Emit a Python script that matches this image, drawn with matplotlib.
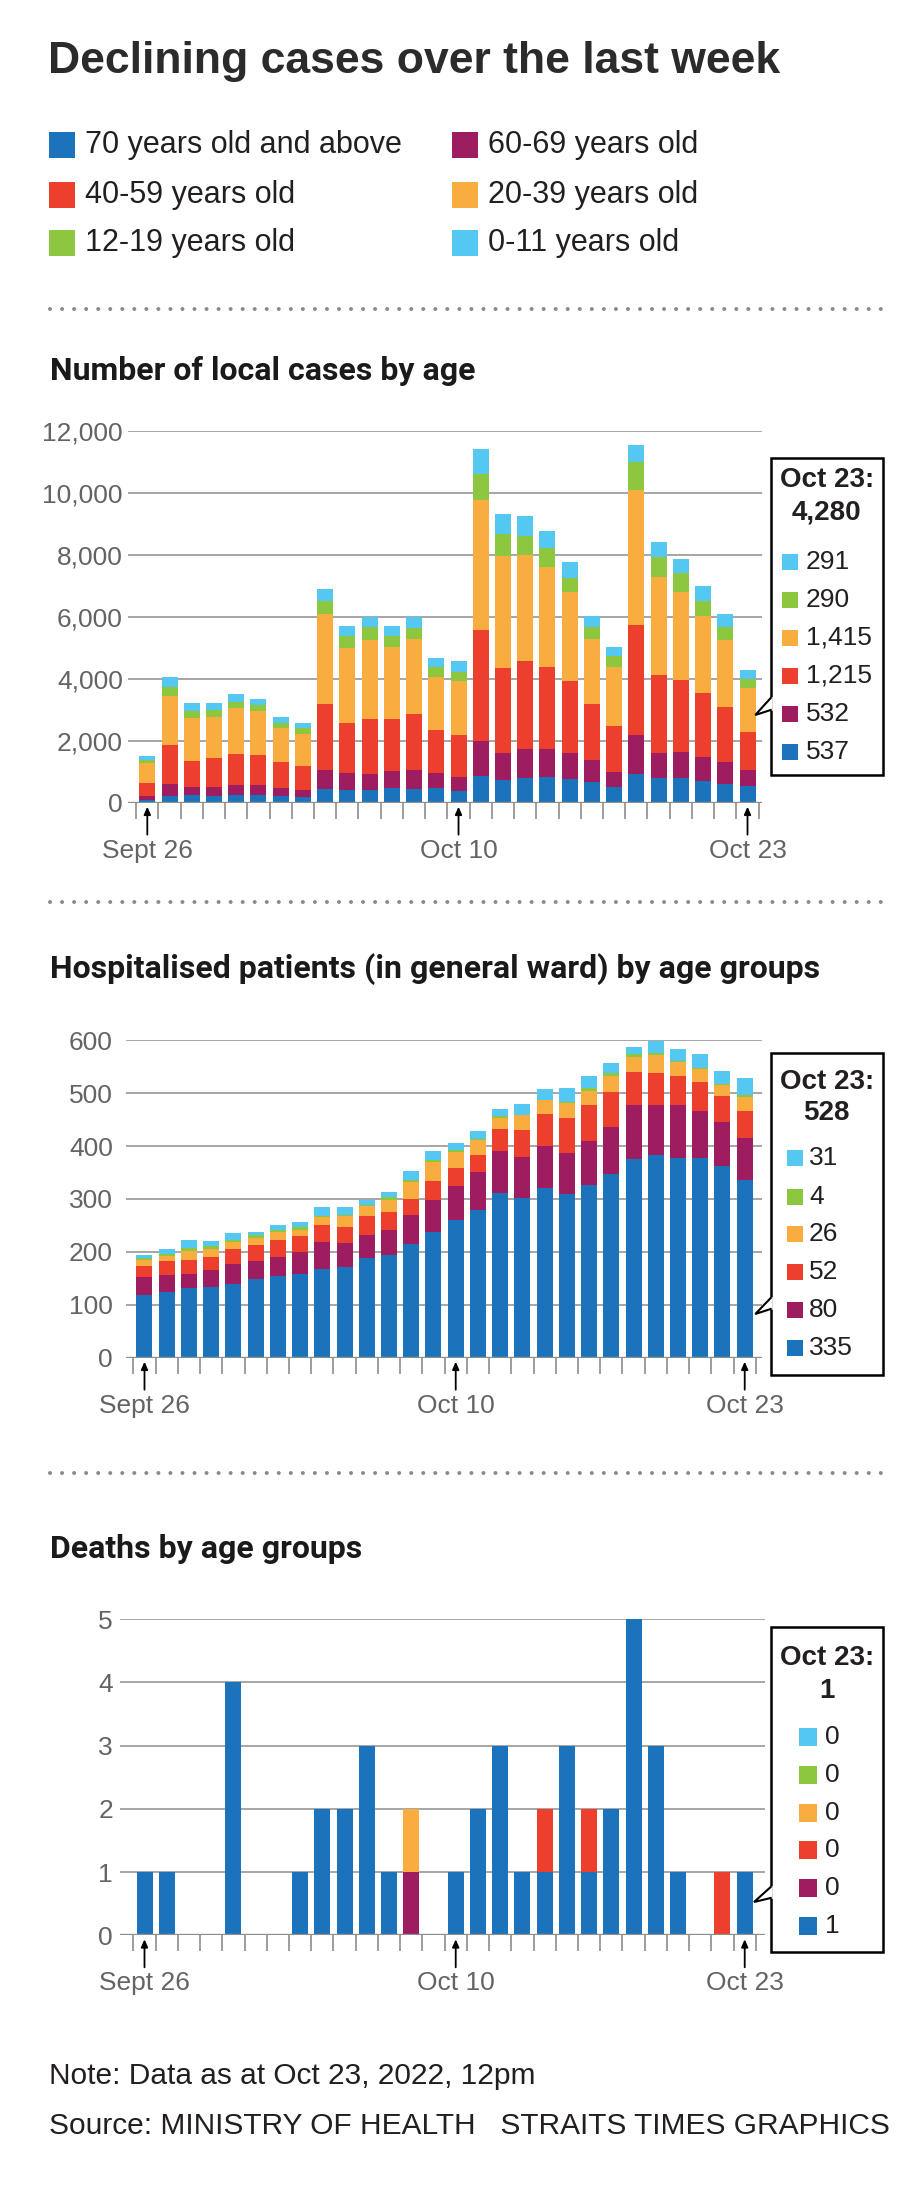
import matplotlib
matplotlib.use("Agg")
import matplotlib.pyplot as plt
import numpy as np
from matplotlib.patches import Rectangle
from matplotlib.lines import Line2D

# ---------------- data ----------------
groups = ["70 years old and above", "60-69 years old", "40-59 years old",
          "20-39 years old", "12-19 years old", "0-11 years old"]
colors = ["#1b74bb", "#9d1d60", "#ec3f2d", "#f8ad3e", "#8dc63f", "#55c8f2"]

n_days = 28
date_ticks = [0, 14, 27]
date_labels = ["Sept 26", "Oct 10", "Oct 23"]

# local cases by age (Sept 26 - Oct 23)
cases_70 = [86, 226, 237, 226, 237, 258, 226, 183, 430, 409, 419, 473, 452, 473,
            376, 860, 720, 785, 817, 753, 677, 495, 914, 796, 796, 710, 613, 537]
cases_60 = [129, 376, 268, 279, 322, 323, 258, 215, 624, 548, 516, 549, 602, 495,
            441, 1129, 871, 957, 925, 849, 699, 494, 1269, 806, 828, 763, 699, 532]
cases_40 = [430, 1248, 850, 925, 1022, 957, 839, 785, 2140, 1613, 1775, 1688, 1806, 1387,
            1377, 3592, 2753, 2828, 2634, 2333, 1818, 1495, 3538, 2506, 2344, 2054, 1774, 1215]
cases_20 = [624, 1602, 1376, 1334, 1462, 1408, 1096, 1043, 2892, 2419, 2537, 2301, 2420, 1710,
            1731, 4183, 3624, 3419, 3226, 2850, 2086, 1882, 4365, 3182, 2839, 2495, 2161, 1415]
cases_12 = [97, 268, 226, 215, 204, 194, 140, 183, 409, 387, 409, 376, 365, 301,
            301, 828, 688, 624, 624, 462, 376, 376, 904, 635, 591, 473, 420, 290]
cases_0 = [139, 323, 258, 236, 248, 204, 194, 172, 387, 323, 322, 312, 333, 301,
           344, 806, 656, 634, 527, 516, 355, 290, 548, 484, 452, 484, 419, 291]

# hospitalised (general ward)
hosp_70 = [119, 125, 131, 134, 139, 148, 155, 158, 168, 171, 188, 195, 214, 238,
           260, 279, 312, 301, 321, 309, 327, 347, 376, 383, 378, 378, 362, 335]
hosp_60 = [34, 31, 27, 32, 39, 35, 36, 42, 51, 45, 44, 47, 55, 61,
           64, 72, 79, 78, 79, 78, 83, 89, 101, 95, 100, 88, 84, 80]
hosp_40 = [21, 26, 27, 24, 27, 30, 31, 30, 31, 32, 35, 34, 31, 35,
           34, 33, 41, 51, 61, 66, 68, 66, 64, 61, 55, 55, 49, 52]
hosp_20 = [10, 10, 17, 15, 14, 14, 15, 11, 16, 20, 20, 23, 33, 36,
           31, 28, 22, 28, 26, 29, 27, 31, 28, 33, 26, 25, 21, 26]
hosp_12 = [4, 4, 6, 6, 4, 5, 5, 6, 1, 2, 2, 4, 3, 3,
           3, 2, 2, 1, 1, 2, 4, 6, 5, 4, 2, 2, 1, 4]
hosp_0 = [6, 10, 14, 10, 13, 6, 8, 9, 18, 14, 9, 11, 16, 18,
          13, 14, 15, 20, 20, 26, 23, 18, 13, 22, 22, 27, 25, 31]

# deaths
death_70 = [1, 1, 0, 0, 4, 0, 0, 1, 2, 2, 3, 1, 0, 0,
            1, 2, 3, 1, 1, 3, 1, 2, 5, 3, 1, 0, 0, 1]
death_60 = [0, 0, 0, 0, 0, 0, 0, 0, 0, 0, 0, 0, 1, 0,
            0, 0, 0, 0, 0, 0, 0, 0, 0, 0, 0, 0, 0, 0]
death_40 = [0, 0, 0, 0, 0, 0, 0, 0, 0, 0, 0, 0, 0, 0,
            0, 0, 0, 0, 1, 0, 1, 0, 0, 0, 0, 0, 1, 0]
death_20 = [0, 0, 0, 0, 0, 0, 0, 0, 0, 0, 0, 0, 1, 0,
            0, 0, 0, 0, 0, 0, 0, 0, 0, 0, 0, 0, 0, 0]
death_12 = [0] * 28
death_0 = [0] * 28

cases_ticks = [0, 2000, 4000, 6000, 8000, 10000, 12000]
hosp_ticks = [0, 100, 200, 300, 400, 500, 600]
death_ticks = [0, 1, 2, 3, 4, 5]

# ---------------- styling ----------------
W, H = 920, 2200
fig = plt.figure(figsize=(W / 100, H / 100), dpi=100)
NARROW = ["Liberation Sans", "DejaVu Sans"]
HEAD = ["Roboto", "DejaVu Sans"]
GRID = "#8e8e8e"
TXT = "#636466"
DARK = "#231f20"
PX = 0.72  # points per pixel
TICK_FS = 19
BOX_FS = 19


def fx(x):
    return x / W


def fy(y):
    return 1 - y / H


def panel(series, ticks, ylabels, left, right, base, top, xc0, pitch,
          subtitle, sub_y, ylab_pad, box, arrow_len=32):
    ax = fig.add_axes([fx(left), fy(base), (right - left) / W, (base - top) / H])
    x = np.arange(n_days)
    bottom = np.zeros(n_days)
    for vals, c in zip(series, colors):
        v = np.array(vals, dtype=float)
        ax.bar(x, v, bottom=bottom, width=16 / pitch, color=c, linewidth=0,
               zorder=2, clip_on=False)
        bottom += v
    ax.set_xlim((left - xc0) / pitch, (right - xc0) / pitch)
    ax.set_ylim(0, ticks[-1])
    for t in ticks[1:]:
        ax.axhline(t, color=GRID, lw=1.1, zorder=1)
    ax.axhline(0, color=GRID, lw=2.4, zorder=3)
    for s in ax.spines.values():
        s.set_visible(False)
    ax.set_yticks(ticks)
    ax.set_yticklabels(ylabels, fontfamily=NARROW, fontsize=TICK_FS, color=TXT)
    ax.tick_params(axis="y", length=0, pad=ylab_pad * PX)
    ax.set_xticks(date_ticks)
    ax.set_xticklabels(date_labels, fontfamily=NARROW, fontsize=TICK_FS, color=TXT)
    ax.set_xticks(np.arange(-0.5, n_days, 1.0), minor=True)
    ax.tick_params(axis="x", which="major", length=0, pad=26)
    ax.tick_params(axis="x", which="minor", length=16 * PX, width=1.2,
                   color=GRID, direction="out")
    ax.patch.set_alpha(0)
    for i in date_ticks:
        ax.annotate("", xy=(i, 0), xycoords="data", xytext=(0, -arrow_len),
                    textcoords="offset pixels",
                    arrowprops=dict(arrowstyle="-|>,head_length=0.45,head_width=0.2",
                                    color="black", lw=1.3, shrinkA=0, shrinkB=4 * PX),
                    annotation_clip=False)
    # subtitle
    fig.text(fx(50), fy(sub_y), subtitle, fontfamily=HEAD, fontweight="bold",
             fontsize=23, color="#1a1a1a", va="baseline", ha="left")
    # callout box
    bx0, bx1, by0, by1 = box["rect"]
    fig.add_artist(Rectangle((fx(bx0), fy(by1)), (bx1 - bx0) / W, (by1 - by0) / H,
                             transform=fig.transFigure, facecolor="white",
                             edgecolor="black", lw=1.8, zorder=5))
    nt, tip, nb = box["notch"]
    fig.add_artist(Line2D([fx(bx0), fx(bx0)], [fy(nt + 1), fy(nb - 1)],
                          transform=fig.transFigure, color="white", lw=2.6, zorder=6))
    fig.add_artist(Line2D([fx(bx0), fx(tip[0]), fx(bx0)], [fy(nt), fy(tip[1]), fy(nb)],
                          transform=fig.transFigure, color="black", lw=1.5, zorder=6,
                          solid_joinstyle="miter"))
    cx = (bx0 + bx1) / 2
    total = int(sum(s[-1] for s in series))
    fig.text(fx(cx), fy(box["head"][0]), date_labels[-1] + ":", fontfamily=NARROW,
             fontweight="bold", fontsize=BOX_FS + 1, color=DARK, ha="center",
             va="center", zorder=7)
    fig.text(fx(cx), fy(box["head"][1]), f"{total:,}", fontfamily=NARROW,
             fontweight="bold", fontsize=BOX_FS + 1, color=DARK, ha="center",
             va="center", zorder=7)
    sq0, sq1, tx = box["sq"]
    sqh = sq1 - sq0
    for ry, vals, c in zip(box["rows"], series[::-1], colors[::-1]):
        fig.add_artist(Rectangle((fx(sq0), fy(ry + sqh / 2)), sqh / W, sqh / H,
                                 transform=fig.transFigure, facecolor=c,
                                 edgecolor="none", zorder=7))
        fig.text(fx(tx), fy(ry), f"{int(vals[-1]):,}", fontfamily=NARROW,
                 fontsize=BOX_FS, color=DARK, ha="left", va="center", zorder=7)
    return ax


# ---------------- title & legend ----------------
fig.text(fx(48), fy(73), "Declining cases over the last week", fontfamily=NARROW,
         fontweight="bold", fontsize=32, color="#2b2b2b", va="baseline", ha="left")

leg_pos = [(49, 145), (452, 145), (49, 195), (452, 195), (49, 243), (452, 243)]
for (lx, ly), g, c in zip(leg_pos, groups, colors):
    fig.add_artist(Rectangle((fx(lx), fy(ly + 13)), 26 / W, 26 / H,
                             transform=fig.transFigure, facecolor=c, edgecolor="none"))
    fig.text(fx(lx + 36), fy(ly), g, fontfamily=NARROW, fontsize=22,
             color=DARK, va="center", ha="left")

# dotted separators
for sy in (309, 902, 1473):
    fig.add_artist(Line2D([fx(50), fx(884)], [fy(sy), fy(sy)], transform=fig.transFigure,
                          color="#8a8a8a", lw=4 * PX, ls=(0, (0.01, 3)),
                          dash_capstyle="round"))

# ---------------- panels ----------------
panel([cases_70, cases_60, cases_40, cases_20, cases_12, cases_0],
      cases_ticks, [f"{t:,}" for t in cases_ticks],
      left=128, right=762, base=802.7, top=430.7, xc0=147.3, pitch=22.23,
      subtitle="Number of local cases by age", sub_y=380.5, ylab_pad=5,
      box=dict(rect=(770.7, 882.7, 458, 775), notch=(698, (755.3, 715), 710),
               head=(480, 513), sq=(782, 798, 806),
               rows=[562, 600, 638, 676, 714, 752]))

panel([hosp_70, hosp_60, hosp_40, hosp_20, hosp_12, hosp_0],
      hosp_ticks, [str(t) for t in hosp_ticks],
      left=126, right=762, base=1357.7, top=1040.3, xc0=144.5, pitch=22.23,
      subtitle="Hospitalised patients (in general ward) by age groups", sub_y=978,
      ylab_pad=13,
      box=dict(rect=(770.7, 882.7, 1053, 1375), notch=(1298, (755.3, 1314), 1309),
               head=(1082, 1113), sq=(787, 803, 809),
               rows=[1158, 1197, 1234, 1272, 1310, 1348]))

panel([death_70, death_60, death_40, death_20, death_12, death_0],
      death_ticks, [str(t) for t in death_ticks],
      left=120, right=765, base=1935.3, top=1619.3, xc0=144.5, pitch=22.23,
      subtitle="Deaths by age groups", sub_y=1558, ylab_pad=7,
      box=dict(rect=(770.7, 882.7, 1627, 1952), notch=(1887, (754, 1902), 1898),
               head=(1658, 1691), sq=(799, 817, 825),
               rows=[1737, 1775, 1813, 1850, 1888, 1926]))

# ---------------- footer ----------------
fig.text(fx(49), fy(2084), "Note: Data as at Oct 23, 2022, 12pm", fontfamily=NARROW,
         fontsize=21.5, color=DARK, va="baseline", ha="left")
fig.text(fx(49), fy(2134), "Source: MINISTRY OF HEALTH   STRAITS TIMES GRAPHICS",
         fontfamily=NARROW, fontsize=21.5, color=DARK, va="baseline", ha="left")

fig.savefig("out.png", dpi=100, facecolor="white")
